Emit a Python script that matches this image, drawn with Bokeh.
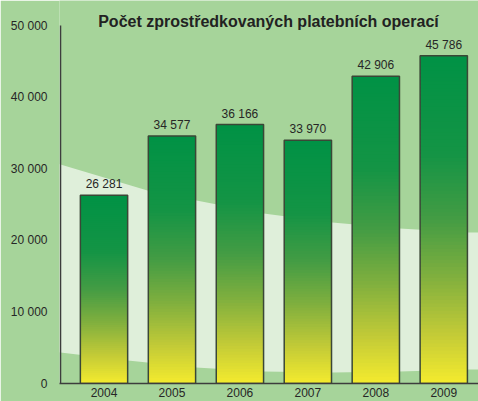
from bokeh.plotting import figure
from bokeh.embed import file_html
from bokeh.resources import INLINE
from bokeh.models import Range1d, FixedTicker, PolyAnnotation
from bokeh.core.properties import value

# ---- data ----
years = ["2004", "2005", "2006", "2007", "2008", "2009"]
counts = [26281, 34577, 36166, 33970, 42906, 45786]
y_ticks = [0, 10000, 20000, 30000, 40000, 50000]
title_text = "Počet zprostředkovaných platebních operací"

# ---- style ----
BG = "#a6d49a"
BAND = "#dfefda"
TEXT = "#262626"
AXIS = "#3d3d3d"
OUTLINE = "#3a4736"
FONT = value("Liberation Sans")
BAR_W = 0.696

# decorative light band behind the bars (data coordinates)
band_upper_x = [-1.53, -0.64, 0.64, 1.36, 2.35, 3.36, 4.35, 5.35, 5.7]
band_upper_y = [33240, 30590, 26950, 25560, 23740, 22490, 21650, 21090, 21050]
band_lower_x = [5.7, 5.35, 4.35, 3.36, 2.35, 1.35, 0.35, -0.64, -1.53]
band_lower_y = [1950, 1950, 1680, 1540, 1680, 2240, 3210, 4330, 5590]

# gradient stops (fraction of bar height from bottom, rgb)
stops = [(0.0, (244, 235, 46)), (0.15, (195, 203, 55)), (0.32, (130, 176, 62)),
         (0.5, (68, 156, 68)), (0.7, (20, 148, 69)), (1.0, (0, 146, 69))]


def grad(f):
    for (f0, c0), (f1, c1) in zip(stops[:-1], stops[1:]):
        if f0 <= f <= f1:
            t = (f - f0) / (f1 - f0)
            return "#%02x%02x%02x" % tuple(int(round(a + (b - a) * t)) for a, b in zip(c0, c1))
    return "#%02x%02x%02x" % stops[-1][1]


p = figure(frame_width=419, frame_height=383,
           x_range=Range1d(-0.655, 5.511), y_range=Range1d(0, 53492),
           output_backend="svg", toolbar_location=None,
           min_border_left=59, min_border_right=0, min_border_top=0, min_border_bottom=18,
           background_fill_color=BG, border_fill_color=BG, outline_line_color=None)

p.add_layout(PolyAnnotation(xs=band_upper_x + band_lower_x, ys=band_upper_y + band_lower_y,
                            fill_color=BAND, fill_alpha=1.0, line_color=None, level="underlay"))

idx = list(range(len(years)))

# gradient bars built from strips
N = 90
sx, sb, st, sc = [], [], [], []
for i, v in zip(idx, counts):
    for k in range(N):
        sx.append(i)
        sb.append(v * k / N)
        st.append(min(v, v * (k + 1.4) / N))
        sc.append(grad((k + 0.5) / N))
p.vbar(x=sx, bottom=sb, top=st, width=BAR_W, fill_color=sc, line_color=None)
p.vbar(x=idx, top=counts, width=BAR_W, fill_color=None, line_color=OUTLINE, line_width=1.5)

labels = [f"{v:,}".replace(",", " ") for v in counts]
p.text(x=idx, y=counts, text=labels, text_align="center", text_baseline="bottom",
       y_offset=-4, text_font=FONT, text_font_size="12px", text_color=TEXT)

# title
p.text(x=[2.42], y=[50559], text=[title_text], text_align="center", text_baseline="middle",
       text_font=FONT, text_font_size="16px", text_font_style="bold", text_color="#222222")

# y axis line
p.segment(x0=[-0.64], y0=[0], x1=[-0.64], y1=[y_ticks[-1]], line_color=AXIS, line_width=1.5)

p.grid.visible = False

p.xaxis.ticker = FixedTicker(ticks=idx)
p.xaxis.major_label_overrides = {i: y for i, y in zip(idx, years)}
p.xaxis.major_tick_out = 0
p.xaxis.major_tick_in = 0
p.xaxis.minor_tick_line_color = None
p.xaxis.axis_line_color = AXIS
p.xaxis.axis_line_width = 1.5
p.xaxis.major_label_standoff = 4
p.xaxis.major_label_text_font = "Liberation Sans"
p.xaxis.major_label_text_font_size = "12px"
p.xaxis.major_label_text_color = TEXT

p.yaxis.ticker = FixedTicker(ticks=y_ticks)
p.yaxis.major_label_overrides = {t: f"{t:,}".replace(",", " ") for t in y_ticks}
p.yaxis.major_tick_out = 0
p.yaxis.major_tick_in = 0
p.yaxis.minor_tick_line_color = None
p.yaxis.axis_line_color = None
p.yaxis.major_label_standoff = 12
p.yaxis.major_label_text_font = "Liberation Sans"
p.yaxis.major_label_text_font_size = "12px"
p.yaxis.major_label_text_color = TEXT

open("out.html", "w").write(file_html(p, INLINE))
